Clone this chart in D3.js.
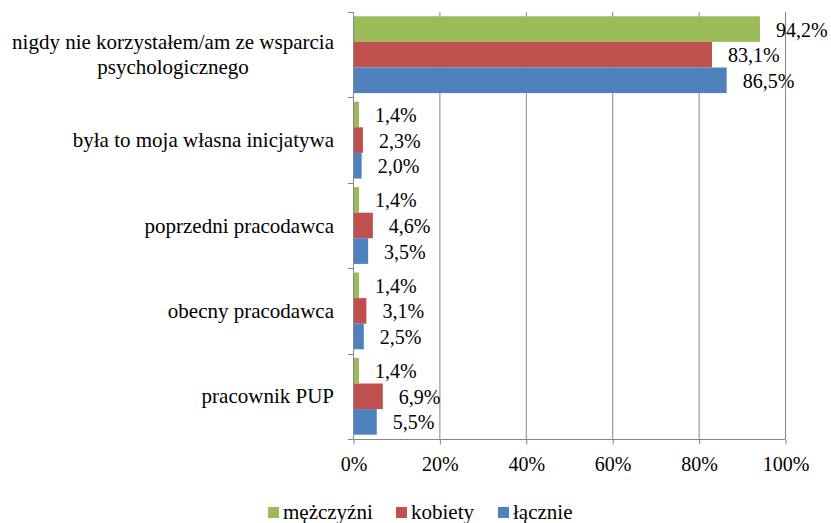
<!DOCTYPE html>
<html>
<head>
<meta charset="utf-8">
<script src="https://cdn.jsdelivr.net/npm/d3@7"></script>
</head>
<body style="margin:0">
<svg id="chart" width="831" height="523"></svg>
<script>
// data
const categories = [
  "nigdy nie korzystałem/am ze wsparcia psychologicznego",
  "była to moja własna inicjatywa",
  "poprzedni pracodawca",
  "obecny pracodawca",
  "pracownik PUP"
];
const categoryLines = [
  ["nigdy nie korzystałem/am ze wsparcia", "psychologicznego"],
  ["była to moja własna inicjatywa"],
  ["poprzedni pracodawca"],
  ["obecny pracodawca"],
  ["pracownik PUP"]
];
const seriesNames = ["mężczyźni", "kobiety", "łącznie"];
const men   = [94.2, 1.4, 1.4, 1.4, 1.4];
const women = [83.1, 2.3, 4.6, 3.1, 6.9];
const total = [86.5, 2.0, 3.5, 2.5, 5.5];
const xTicks = [0, 20, 40, 60, 80, 100];
const colors = ["#9BBB59", "#C0504D", "#4F81BD"];

const seriesValues = [men, women, total];

const svg = d3.select("#chart");
const plot = { left: 353, right: 785, top: 12, bottom: 439 };
const gridColor = "#868686";
const numSize = 20;
const textSize = 21;

const x = d3.scaleLinear().domain([0, 100]).range([plot.left, plot.right]);
const y = d3.scaleBand().domain(categories).range([plot.top, plot.bottom]);
const sub = d3.scaleBand().domain(seriesNames).range([0, y.bandwidth()]).paddingOuter(0.168);

const fmt = v => d3.format(".1f")(v).replace(".", ",") + "%";

// gridlines
svg.append("g")
  .selectAll("line")
  .data(xTicks.slice(1))
  .join("line")
    .attr("x1", d => x(d) + 0.5)
    .attr("x2", d => x(d) + 0.5)
    .attr("y1", plot.top)
    .attr("y2", plot.bottom)
    .attr("stroke", gridColor)
    .attr("stroke-width", 1);

// bars
const rows = categories.map((c, i) => ({
  cat: c,
  vals: seriesNames.map((s, j) => ({ s, j, v: seriesValues[j][i] }))
}));

const groups = svg.append("g")
  .selectAll("g")
  .data(rows)
  .join("g")
    .attr("transform", d => `translate(0,${y(d.cat)})`);

groups.selectAll("rect")
  .data(d => d.vals)
  .join("rect")
    .attr("x", x(0))
    .attr("y", d => sub(d.s))
    .attr("width", d => x(d.v) - x(0))
    .attr("height", sub.bandwidth())
    .attr("fill", d => colors[d.j]);

groups.selectAll("text.val")
  .data(d => d.vals)
  .join("text")
    .attr("class", "val")
    .attr("x", d => x(d.v) + 16)
    .attr("y", d => sub(d.s) + sub.bandwidth() / 2 + 7.5)
    .attr("font-size", numSize)
    .text(d => fmt(d.v));

// y axis line with boundary ticks
const yAxis = svg.append("g").attr("stroke", gridColor).attr("stroke-width", 1);
yAxis.append("line")
  .attr("x1", plot.left + 0.5).attr("x2", plot.left + 0.5)
  .attr("y1", plot.top).attr("y2", plot.bottom);
const bounds = categories.map(c => y(c)).concat([plot.bottom]);
yAxis.selectAll("line.tick")
  .data(bounds)
  .join("line")
    .attr("class", "tick")
    .attr("x1", plot.left - 5).attr("x2", plot.left + 0.5)
    .attr("y1", d => Math.round(d) + 0.5).attr("y2", d => Math.round(d) + 0.5);

// x axis
const xAxis = svg.append("g")
  .attr("transform", `translate(0.5,${plot.bottom + 0.5})`)
  .call(d3.axisBottom(x).tickValues(xTicks).tickFormat(d => d + "%").tickSize(5).tickPadding(12));
xAxis.attr("font-family", null).attr("font-size", null);
xAxis.select(".domain").attr("stroke", gridColor).attr("d", `M${plot.left},0H${plot.right}`);
xAxis.selectAll(".tick line").attr("stroke", gridColor);
xAxis.selectAll(".tick text")
  .attr("font-size", numSize)
  .attr("fill", "#000");

// category labels
const labelRight = 334;
const lineH = 25;
categoryLines.forEach((lines, i) => {
  const cy = y(categories[i]) + y.bandwidth() / 2;
  const t = svg.append("text")
    .attr("font-size", textSize)
    .attr("fill", "#000")
    .attr("text-anchor", lines.length > 1 ? "middle" : "end");
  lines.forEach((ln, k) => {
    t.append("tspan")
      .attr("y", cy + (k - (lines.length - 1) / 2) * lineH + 7)
      .text(ln);
  });
  if (lines.length > 1) {
    const w = d3.max(t.selectAll("tspan").nodes(), n => n.getComputedTextLength());
    t.selectAll("tspan").attr("x", labelRight - w / 2);
  } else {
    t.selectAll("tspan").attr("x", labelRight);
  }
});

// legend
const legendItems = [
  { name: seriesNames[0], x: 268 },
  { name: seriesNames[1], x: 396 },
  { name: seriesNames[2], x: 498 }
];
const legend = svg.append("g")
  .selectAll("g")
  .data(legendItems)
  .join("g")
    .attr("transform", d => `translate(${d.x},507)`);
legend.append("rect")
  .attr("width", 11).attr("height", 11)
  .attr("fill", (d, i) => colors[i]);
legend.append("text")
  .attr("x", 15).attr("y", 12)
  .attr("font-size", textSize)
  .attr("fill", "#000")
  .text(d => d.name);
</script>
</body>
</html>
